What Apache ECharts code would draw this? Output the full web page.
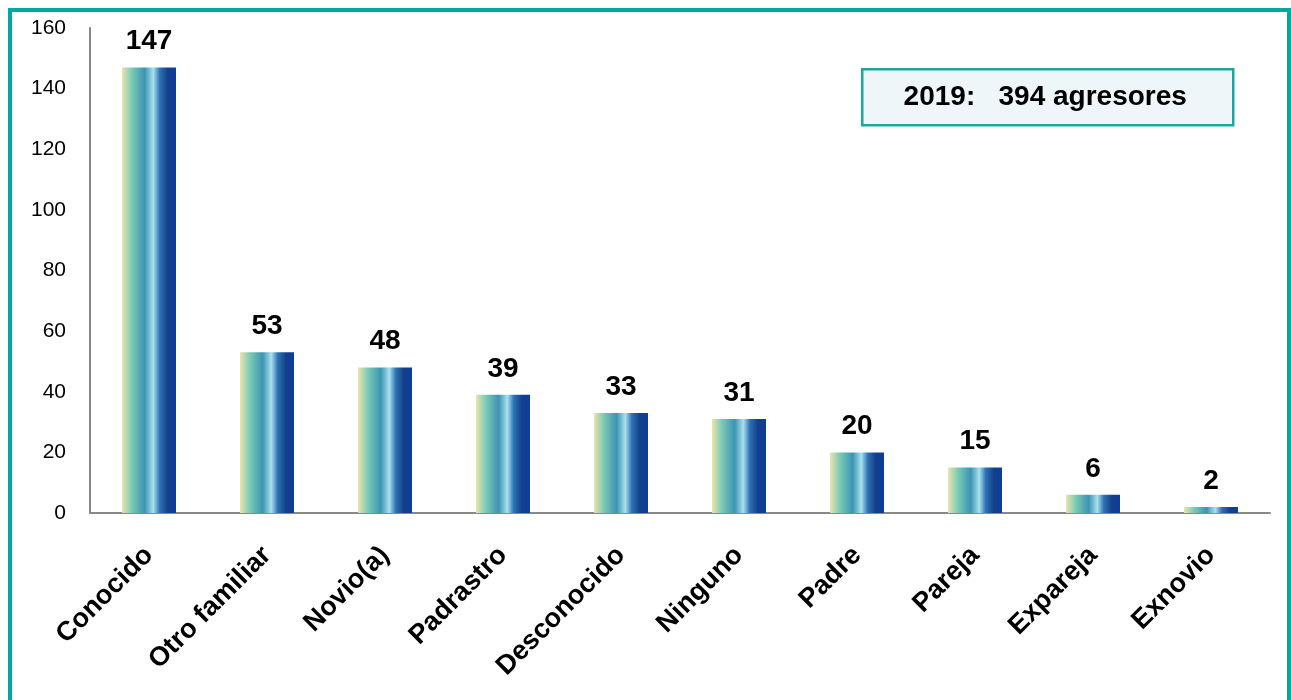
<!DOCTYPE html>
<html>
<head>
<meta charset="utf-8">
<title>Agresores 2019</title>
<style>
  body { margin: 0; background: #fff; }
  #main { width: 1291px; height: 700px; }
</style>
</head>
<body>
<div id="main"></div>
<script src="https://cdn.jsdelivr.net/npm/echarts@6/dist/echarts.min.js"></script>
<script>
// datos
var categorias = ['Conocido', 'Otro familiar', 'Novio(a)', 'Padrastro', 'Desconocido', 'Ninguno', 'Padre', 'Pareja', 'Expareja', 'Exnovio'];
var agresores = [147, 53, 48, 39, 33, 31, 20, 15, 6, 2];
var ticksY = [0, 20, 40, 60, 80, 100, 120, 140, 160];
var totalTexto = '2019:   394 agresores';

var fuente = '"Liberation Sans", Arial, sans-serif';

var myChart = echarts.init(document.getElementById('main'));

// relleno de las barras (aprox. al degradado del original)
var relleno = new echarts.graphic.LinearGradient(0, 0, 1, 0, [
  { offset: 0, color: '#ebe4ae' },
  { offset: 0.18, color: '#7ccbb4' },
  { offset: 0.42, color: '#3b94b4' },
  { offset: 0.58, color: '#a9e1ec' },
  { offset: 0.7, color: '#2c72b6' },
  { offset: 0.85, color: '#143f8a' },
  { offset: 1, color: '#0c3da0' }
]);

var option = {
  animation: false,
  grid: { left: 90, right: 21, top: 28, bottom: 187 },
  graphic: [
    {
      type: 'rect',
      shape: { x: 10, y: 10, width: 1279, height: 700 },
      style: { fill: 'none', stroke: '#00a99d', lineWidth: 4 },
      z: 100
    },
    {
      type: 'group',
      left: 861, top: 68,
      children: [
        {
          type: 'rect',
          shape: { width: 371, height: 56 },
          style: { fill: '#eef6f9', stroke: '#1aa89c', lineWidth: 2.5 }
        },
        {
          type: 'text',
          x: 183, y: 28,
          style: {
            text: totalTexto,
            fill: '#000',
            font: 'bold 28px ' + fuente,
            align: 'center',
            verticalAlign: 'middle'
          }
        }
      ]
    }
  ],
  xAxis: {
    type: 'category',
    data: categorias,
    axisLine: { lineStyle: { color: '#888', width: 2 } },
    axisTick: { show: false },
    axisLabel: {
      rotate: 45,
      interval: 0,
      margin: 38,
      color: '#000',
      fontWeight: 'bold',
      fontSize: 27,
      fontFamily: fuente
    }
  },
  yAxis: {
    type: 'value',
    min: ticksY[0],
    max: ticksY[ticksY.length - 1],
    interval: 20,
    axisLine: { show: true, lineStyle: { color: '#888', width: 2 } },
    axisTick: { show: false },
    splitLine: { show: false },
    axisLabel: {
      color: '#000',
      fontSize: 21,
      margin: 24,
      fontFamily: fuente
    }
  },
  series: [
    {
      type: 'bar',
      data: agresores,
      barWidth: 54,
      itemStyle: { color: relleno },
      label: {
        show: true,
        position: 'top',
        distance: 12,
        color: '#000',
        fontWeight: 'bold',
        fontSize: 28,
        fontFamily: fuente
      }
    }
  ]
};
myChart.setOption(option);
</script>
</body>
</html>
